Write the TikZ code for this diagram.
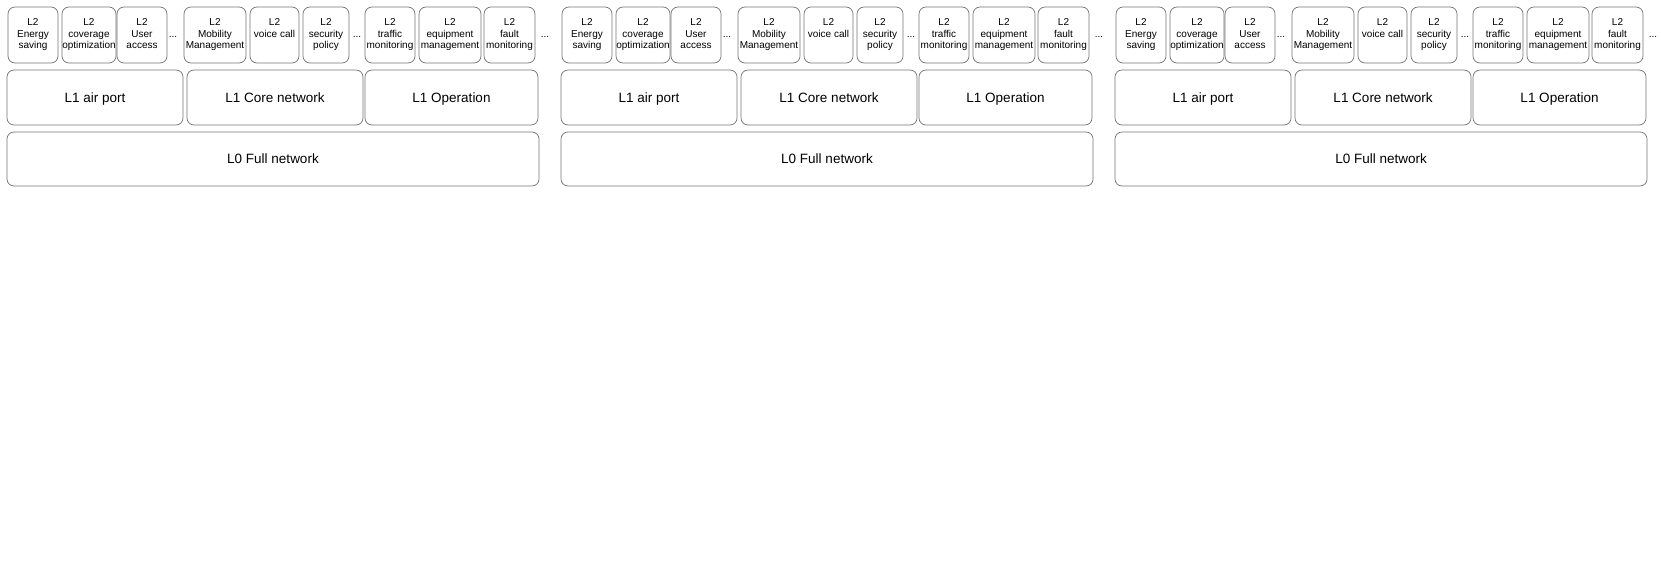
\documentclass[tikz,border=0pt]{standalone}
\usepackage{fontspec}
\setmainfont{Liberation Sans}
\newcommand\lthree[3]{#1\strut\\#2\strut\\#3\strut}
\begin{document}
\begin{tikzpicture}[x=1pt,y=-1pt,
  boxbase/.style={draw=black!55, line width=0.7pt, rounded corners=7pt, inner sep=0pt, align=center, text=black},
  ltwo/.style={boxbase, minimum height=56pt, font=\fontsize{10}{11.5}\selectfont},
  lone/.style={boxbase, minimum height=55pt, text height=9.7pt, text depth=0pt, font=\fontsize{13.5}{15}\selectfont},
  lzero/.style={boxbase, minimum height=54pt, text height=9.7pt, text depth=0pt, font=\fontsize{13.5}{15}\selectfont},
  dotsnode/.style={inner sep=0pt, font=\fontsize{10}{11.5}\selectfont}]
\useasboundingbox (0,0) rectangle (1661,581);
\foreach \g in {0,1,2}{
\begin{scope}[xshift={\g*554}]
  \node[ltwo, minimum width=50pt] (e\g) at (33,35) {\lthree{L2}{Energy}{saving}};
  \node[ltwo, minimum width=54pt] (c\g) at (89,35) {\lthree{L2}{coverage}{optimization}};
  \node[ltwo, minimum width=50pt] (u\g) at (142,35) {\lthree{L2}{User}{access}};
  \node[dotsnode] (da\g) at (173,37) {...};
  \node[ltwo, minimum width=62pt] (m\g) at (215,35) {\lthree{L2}{Mobility}{Management}};
  \node[ltwo, minimum width=49pt] (v\g) at (274.5,35) {\lthree{L2}{voice call}{}};
  \node[ltwo, minimum width=46pt] (s\g) at (326,35) {\lthree{L2}{security}{policy}};
  \node[dotsnode] (db\g) at (357,37) {...};
  \node[ltwo, minimum width=50pt] (t\g) at (390,35) {\lthree{L2}{traffic}{monitoring}};
  \node[ltwo, minimum width=62pt] (q\g) at (450,35) {\lthree{L2}{equipment}{management}};
  \node[ltwo, minimum width=51pt] (f\g) at (509.5,35) {\lthree{L2}{fault}{monitoring}};
  \node[dotsnode] (dc\g) at (545,37) {...};
  \node[lone, minimum width=176pt] (a\g) at (95,97.5) {L1 air port};
  \node[lone, minimum width=176pt] (k\g) at (275,97.5) {L1 Core network};
  \node[lone, minimum width=173pt] (o\g) at (451.5,97.5) {L1 Operation};
  \node[lzero, minimum width=532pt] (z\g) at (273,159) {L0 Full network};
\end{scope}
}
\end{tikzpicture}
\end{document}
